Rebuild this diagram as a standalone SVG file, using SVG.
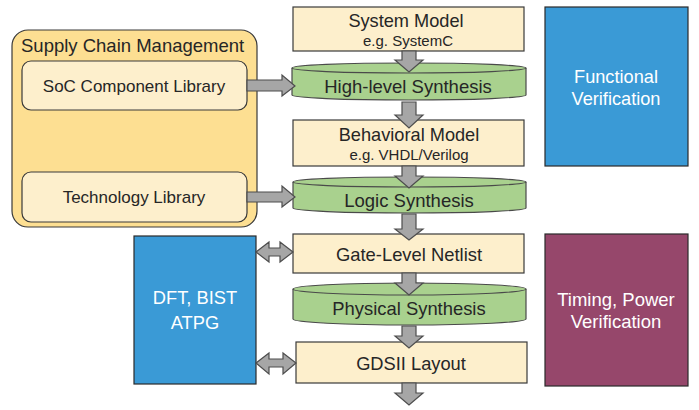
<svg xmlns="http://www.w3.org/2000/svg" width="699" height="410" viewBox="0 0 699 410">
<style>
text{font-family:"Liberation Sans",Arial,sans-serif;fill:#262626;text-anchor:middle}
.box{fill:#FDEFCC;stroke:#3a3a3a;stroke-width:1.2}
.cyl{fill:#A9D18E;stroke:#4a4a4a;stroke-width:1.2}
.arr{fill:#A6A6A6;stroke:#4d4d4d;stroke-width:1.2;stroke-linejoin:miter}
.w{fill:#ffffff}
</style>
<rect width="699" height="410" fill="#ffffff"/>
<g id="supply-chain">
<rect x="12" y="30" width="245" height="197" rx="16" fill="#FDDF92" stroke="#3a3a3a" stroke-width="1.2"/>
<text x="21" y="52" font-size="18.5" style="text-anchor:start">Supply Chain Management</text>
</g>
<g id="soc-lib">
<rect class="box" x="22" y="61" width="225" height="49" rx="9"/>
<text x="134" y="92" font-size="17">SoC Component Library</text>
</g>
<g id="tech-lib">
<rect class="box" x="22" y="172" width="225" height="50" rx="9"/>
<text x="134" y="203" font-size="17">Technology Library</text>
</g>
<g id="system-model">
<rect class="box" x="293" y="7" width="231" height="44"/>
<text x="406" y="27" font-size="18.2">System Model</text>
<text x="408" y="46" font-size="15">e.g. SystemC</text>
</g>
<g id="behavioral-model">
<rect class="box" x="293" y="120" width="231" height="46"/>
<text x="409" y="141" font-size="18.2">Behavioral Model</text>
<text x="409" y="160" font-size="15">e.g. VHDL/Verilog</text>
</g>
<g id="gate-netlist">
<rect class="box" x="293" y="234" width="231" height="39"/>
<text x="409" y="261" font-size="18.4">Gate-Level Netlist</text>
</g>
<g id="gdsii">
<rect class="box" x="296" y="342" width="231" height="41"/>
<text x="411" y="370" font-size="18.3">GDSII Layout</text>
</g>
<g id="hls">
<path class="cyl" d="M292,68 A117,5 0 0 1 526,68 L526,95 A117,5 0 0 1 292,95 Z"/>
<path d="M292,68 A117,5 0 0 0 526,68" fill="none" stroke="#4a4a4a" stroke-width="1.2"/>
<text x="408" y="93" font-size="18.5">High-level Synthesis</text>
</g>
<g id="logic-synthesis">
<path class="cyl" d="M293,182 A116.5,5 0 0 1 526,182 L526,208 A116.5,5 0 0 1 293,208 Z"/>
<path d="M293,182 A116.5,5 0 0 0 526,182" fill="none" stroke="#4a4a4a" stroke-width="1.2"/>
<text x="409" y="207" font-size="18.5">Logic Synthesis</text>
</g>
<g id="physical-synthesis">
<path class="cyl" d="M293,289 A116.5,6 0 0 1 526,289 L526,319 A116.5,6 0 0 1 293,319 Z"/>
<path d="M293,289 A116.5,6 0 0 0 526,289" fill="none" stroke="#4a4a4a" stroke-width="1.2"/>
<text x="409" y="315" font-size="18.4">Physical Synthesis</text>
</g>
<g id="functional-verification">
<rect x="545" y="7" width="143" height="159" fill="#3A9AD6" stroke="#2a2a2a" stroke-width="1.2"/>
<text class="w" x="616" y="83" font-size="18.2">Functional</text>
<text class="w" x="616" y="105" font-size="18.2">Verification</text>
</g>
<g id="dft">
<rect x="134" y="236" width="122" height="148" fill="#3A9AD6" stroke="#2a2a2a" stroke-width="1.2"/>
<text class="w" x="195" y="304" font-size="18.3">DFT, BIST</text>
<text class="w" x="195" y="329" font-size="18.3">ATPG</text>
</g>
<g id="timing-verification">
<rect x="545" y="234" width="143" height="152" fill="#96476B" stroke="#2a2a2a" stroke-width="1.2"/>
<text class="w" x="616" y="306" font-size="18.5">Timing, Power</text>
<text class="w" x="616" y="328" font-size="18.5">Verification</text>
</g>
<g id="connectors">
<path class="arr" d="M247,80 H282 V75 L295,86 L282,96 V91 H247 Z"/>
<path class="arr" d="M247,192 H282 V186 L295,197 L282,207 V202 H247 Z"/>
<path class="arr" d="M402,51 H416 V60 H423 L409,72 L395,60 H402 Z"/>
<path class="arr" d="M402,102 H416 V115 H423 L409,128 L395,115 H402 Z"/>
<path class="arr" d="M402,166 H416 V176 H423 L409,188 L395,176 H402 Z"/>
<path class="arr" d="M402,214 H416 V229 H423 L409,240 L395,229 H402 Z"/>
<path class="arr" d="M402,273 H416 V283 H423 L409,295 L395,283 H402 Z"/>
<path class="arr" d="M402,326 H416 V336 H423 L409,348 L395,336 H402 Z"/>
<path class="arr" d="M402,383 H416 V393 H423 L409,405 L395,393 H402 Z"/>
<path class="arr" d="M256,252 L269,242 V248 H280 V242 L293,252 L280,262 V256 H269 V262 Z"/>
<path class="arr" d="M256,363 L269,353 V359 H283 V353 L296,363 L283,374 V367 H269 V374 Z"/>
</g>
</svg>
